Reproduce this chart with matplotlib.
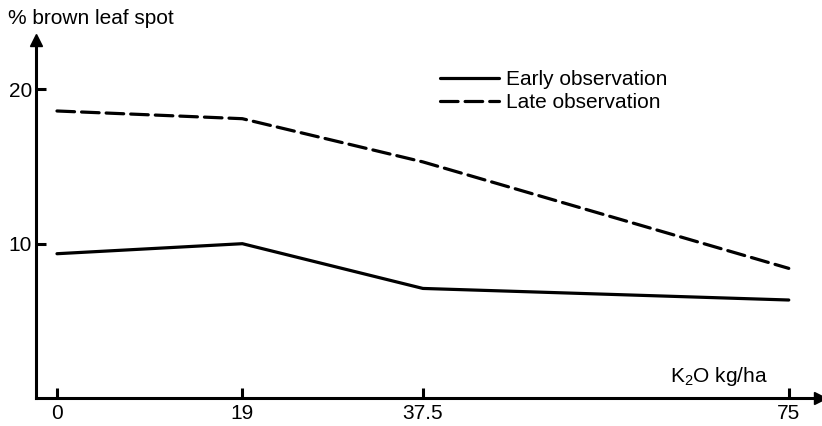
import matplotlib
matplotlib.use("Agg")
import matplotlib.pyplot as plt

# Potash dose (kg K2O per ha) and brown leaf spot incidence (%)
k2o_dose = [0, 19, 37.5, 75]
early_obs = [9.35, 10.0, 7.1, 6.35]
late_obs = [18.6, 18.1, 15.3, 8.4]
x_tick_labels = ["0", "19", "37.5", "75"]
y_ticks = [10, 20]

plt.rcParams["font.family"] = ["Liberation Sans", "DejaVu Sans"]
plt.rcParams["mathtext.fontset"] = "custom"
plt.rcParams["mathtext.rm"] = "Liberation Sans"
plt.rcParams["mathtext.it"] = "Liberation Sans"

fig = plt.figure(figsize=(8.22, 4.26), dpi=100)
ax = fig.add_axes([36 / 822, 1 - 398 / 426, (820 - 36) / 822, (398 - 40) / 426])

x_min, x_max = -2.15, 78.2
y_min, y_max = 0, 23.2
ax.set_xlim(x_min, x_max)
ax.set_ylim(y_min, y_max)

lw = 2.3
ax.plot(k2o_dose, early_obs, color="black", lw=lw, solid_capstyle="round",
        label="Early observation")
ax.plot(k2o_dose, late_obs, color="black", lw=lw, dashes=(5.5, 2.2),
        dash_capstyle="round", label="Late observation")

for side in ("top", "right"):
    ax.spines[side].set_visible(False)
for side in ("left", "bottom"):
    ax.spines[side].set_linewidth(2.2)

# arrow heads on the axes
ax.plot(1, 0, ">", transform=ax.transAxes, color="black", ms=8, clip_on=False)
ax.plot(0, 1, "^", transform=ax.transAxes, color="black", ms=8, clip_on=False)

ax.set_xticks(k2o_dose)
ax.set_xticklabels(x_tick_labels)
ax.set_yticks(y_ticks)
ax.tick_params(axis="both", direction="in", length=7, width=2.2, labelsize=15)
ax.tick_params(axis="x", pad=4)
ax.tick_params(axis="y", pad=3)

fig.text(8 / 822, 1 - 18 / 426, "% brown leaf spot", fontsize=15,
         ha="left", va="center")
ax.text(67.8, 1.4, r"K$_2$O kg/ha", fontsize=15, ha="center", va="center")

leg = ax.legend(loc="upper left", bbox_to_anchor=(394 / 784, 1 - 20 / 358),
                frameon=False, fontsize=15, handlelength=2.8,
                handletextpad=0.35, labelspacing=0.17, borderpad=0)

fig.savefig("out.png", dpi=100)
